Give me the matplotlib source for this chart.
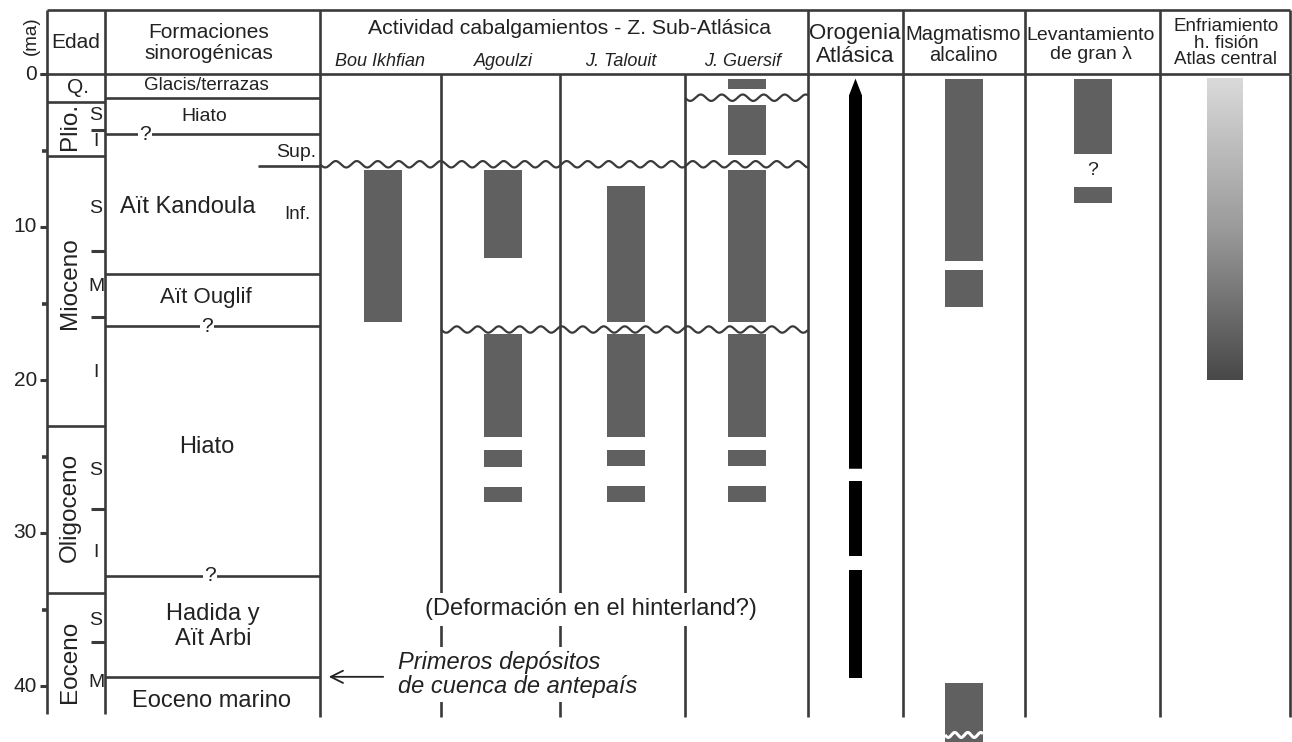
import numpy as np
import matplotlib
matplotlib.use('Agg')
import matplotlib.pyplot as plt
from matplotlib.colors import LinearSegmentedColormap

plt.rcParams['font.family'] = ['Liberation Sans', 'DejaVu Sans']

# ---------------- data (ages in Ma) ----------------
age_ticks = [0, 10, 20, 30, 40]
age_minor = [5, 15, 25, 35]

epoch_names = ['Q.', 'Plio.', 'Mioceno', 'Oligoceno', 'Eoceno']
epoch_label_age = [0.9, 3.45, 13.7, 28.3, 38.4]
epoch_bounds = [1.8, 5.35, 23.0, 33.9]
sub_labels = ['S', 'I', 'S', 'M', 'I', 'S', 'I', 'S', 'M']
sub_label_age = [2.7, 4.4, 8.8, 13.9, 19.5, 25.9, 31.3, 35.7, 39.8]
sub_ticks = [3.65, 11.6, 15.9, 28.4, 37.1]

form_lines_full = [1.55, 13.05, 39.4]
form_lines_query = [3.95, 16.5, 32.8]
form_line_partial = 6.0
form_names = ['Glacis/terrazas', 'Hiato', 'Sup.', 'Aït Kandoula', 'Inf.',
              'Aït Ouglif', 'Hiato', 'Hadida y\nAït Arbi', 'Eoceno marino']
form_name_age = [0.75, 2.75, 5.1, 8.7, 9.2, 14.6, 24.4, 36.1, 41.0]

stations = ['Bou Ikhfian', 'Agoulzi', 'J. Talouit', 'J. Guersif']
thrust_activity = [
    [(6.3, 16.2)],
    [(6.3, 12.0), (17.0, 23.7), (24.6, 25.7), (27.0, 28.0)],
    [(7.3, 16.2), (17.0, 23.7), (24.6, 25.6), (26.9, 28.0)],
    [(0.3, 1.0), (2.0, 5.3), (6.3, 16.2), (17.0, 23.7), (24.6, 25.6), (26.9, 28.0)],
]
unconformities = [5.9, 1.55, 16.7]

orogeny = [(0.3, 25.8), (26.6, 31.5), (32.4, 39.5)]
magmatism = [(0.3, 12.2), (12.8, 15.2), (39.8, 43.7)]
uplift = [(0.3, 5.2), (7.4, 8.4)]
cooling = (0.3, 20.0)

# ---------------- layout ----------------
PX = 15.3          # pixels per Ma
Y0 = 74            # pixel row of 0 Ma
def py(p):
    return (p - Y0) / PX

LC = '#3a3a3a'
TC = '#222222'
BC = '#606060'
LW = 1.9

fig = plt.figure(figsize=(12.92, 7.42), dpi=100)
ax = fig.add_axes([0, 0, 1, 1])
ax.axis('off')

# header frame
hdr_top = py(10)
ax.hlines(hdr_top, 47, 1290, color=LC, lw=LW)
ax.hlines(0, 40, 1290, color=LC, lw=LW)
for x in [47, 105, 320, 808, 903, 1025, 1160, 1290]:
    ax.vlines(x, hdr_top, 0, color=LC, lw=LW)
# body vertical lines
ax.vlines([47, 105], 0, 41.8, color=LC, lw=LW)
ax.vlines([320, 441, 560, 685, 808, 903, 1025, 1160, 1290], 0, 42.0, color=LC, lw=LW)

# age axis
ax.hlines(age_ticks, 40, 47, color=LC, lw=2.2)
ax.hlines(age_minor, 42, 47, color=LC, lw=2.6)
for a in age_ticks:
    ax.text(37, a, str(a), ha='right', va='center', fontsize=15, color=TC)
ax.text(31, py(36), '(ma)', rotation=90, ha='center', va='center', fontsize=13.5, color=TC)

# Edad column
ax.text(76, py(42), 'Edad', ha='center', va='center', fontsize=15, color=TC)
ax.hlines(epoch_bounds, 47, 105, color=LC, lw=LW)
ax.hlines(sub_ticks, 91, 105, color=LC, lw=2.2)
for name, a in zip(epoch_names, epoch_label_age):
    if name == 'Q.':
        ax.text(78, a, name, ha='center', va='center', fontsize=15, color=TC)
    else:
        ax.text(70, a, name, rotation=90, ha='center', va='center', fontsize=17.5, color=TC)
for s, a in zip(sub_labels, sub_label_age):
    ax.text(96, a, s, ha='center', va='center', fontsize=14, color=TC)

# Formaciones sinorogénicas column
ax.text(209, py(43), 'Formaciones\nsinorogénicas', ha='center', va='center',
        fontsize=15, color=TC, linespacing=1.12)
ax.hlines(form_lines_full, 105, 320, color=LC, lw=LW)
ax.hlines(form_lines_query, 105, 320, color=LC, lw=LW)
ax.hlines(form_line_partial, 258, 320, color=LC, lw=LW)
for a, xq in zip(form_lines_query, [145, 207, 210]):
    ax.text(xq, a, '?', ha='center', va='center', fontsize=15, color=TC, zorder=6,
            bbox=dict(facecolor='white', edgecolor='none', pad=1))
form_x = [206, 204, 316, 188, 297, 206, 207, 213, 212]
form_ha = ['center', 'center', 'right', 'center', 'center', 'center', 'center', 'center', 'center']
form_fs = [13.5, 14, 14, 17, 13.5, 16, 17, 17, 17]
for n, a, x, ha, fs in zip(form_names, form_name_age, form_x, form_ha, form_fs):
    ax.text(x, a, n, ha=ha, va='center', fontsize=fs, color=TC, linespacing=1.15)

# Thrust activity columns
ax.text(570, py(28), 'Actividad cabalgamientos - Z. Sub-Atlásica', ha='center', va='center',
        fontsize=15.3, color=TC)
name_x = [380, 503, 621, 743]
bar_x = [383, 502.5, 626, 746.5]
for n, xn, xb, segs in zip(stations, name_x, bar_x, thrust_activity):
    ax.text(xn, py(61), n, ha='center', va='center', fontsize=13, style='italic', color=TC)
    for a, b in segs:
        ax.bar(xb, b - a, bottom=a, width=38, color=BC, zorder=3)

def wave(y, x0, x1, color=LC, lw=1.6, amp=3.2, lam=21.0, z=4):
    xs = np.linspace(x0, x1, 600)
    ys = y + (amp / PX) * np.sin(2 * np.pi * (xs - x0) / lam)
    ax.plot(xs, ys, color=color, lw=lw, zorder=z, solid_capstyle='butt')

for a, (x0, x1) in zip(unconformities, [(320, 808), (685, 808), (441, 808)]):
    wave(a, x0, x1)

ax.text(591, 35.0, '(Deformación en el hinterland?)', ha='center', va='center',
        fontsize=17, color=TC, zorder=6,
        bbox=dict(facecolor='white', edgecolor='none', pad=4))
ax.text(398, 39.25, 'Primeros depósitos\nde cuenca de antepaís', ha='left', va='center',
        fontsize=17, style='italic', color=TC, zorder=6, linespacing=1.02,
        bbox=dict(facecolor='white', edgecolor='none', pad=3))
ax.annotate('', xy=(326, 39.4), xytext=(386, 39.4),
            arrowprops=dict(arrowstyle='->', color=TC, lw=1.3, mutation_scale=22))

# Orogenia Atlásica
ax.text(855, py(45), 'Orogenia\nAtlásica', ha='center', va='center', fontsize=16,
        color=TC, linespacing=1.08)
for i, (a, b) in enumerate(orogeny):
    if i == 0:
        ax.fill([849, 855.5, 862, 862, 849], [a + 1.1, a, a + 1.1, b, b],
                color='black', zorder=3, lw=0)
    else:
        ax.bar(855.5, b - a, bottom=a, width=13, color='black', zorder=3)

# Magmatismo alcalino
ax.text(963, py(45), 'Magmatismo\nalcalino', ha='center', va='center', fontsize=14.5,
        color=TC, linespacing=1.12)
for a, b in magmatism:
    ax.bar(964, b - a, bottom=a, width=38, color=BC, zorder=3)
wave(43.2, 945, 983, color='white', lw=2.2, amp=2.5, lam=13, z=5)

# Levantamiento de gran lambda
ax.text(1091, py(45), 'Levantamiento\nde gran λ', ha='center', va='center', fontsize=14,
        color=TC, linespacing=1.12)
for a, b in uplift:
    ax.bar(1093, b - a, bottom=a, width=38, color=BC, zorder=3)
ax.text(1093, 6.3, '?', ha='center', va='center', fontsize=14, color=TC)

# Enfriamiento
ax.text(1226, py(43), 'Enfriamiento\nh. fisión\nAtlas central', ha='center', va='center',
        fontsize=13.5, color=TC, linespacing=0.98)
cmap = LinearSegmentedColormap.from_list('cool', ['#dadada', '#9a9a9a', '#484848'])
ax.imshow(np.linspace(0, 1, 256).reshape(-1, 1), extent=[1207, 1243, cooling[1], cooling[0]],
          cmap=cmap, aspect='auto', origin='upper', zorder=3, interpolation='bilinear')

ax.set_xlim(0, 1292)
ax.set_ylim((742 - Y0) / PX, -Y0 / PX)

fig.savefig('out.png', dpi=100, facecolor='white')
